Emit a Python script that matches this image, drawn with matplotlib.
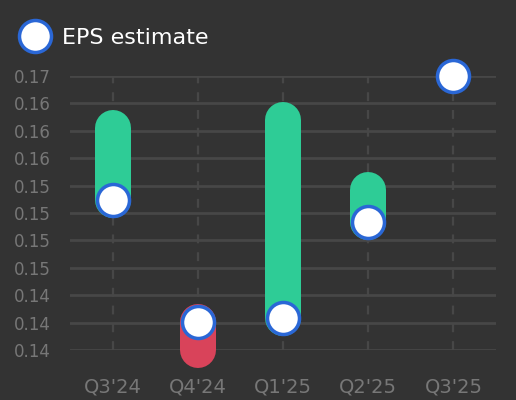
import numpy as np
import matplotlib
matplotlib.use('Agg')
import matplotlib.pyplot as plt
from matplotlib.lines import Line2D

# EPS per quarter
quarters = ["Q3'24", "Q4'24", "Q1'25", "Q2'25", "Q3'25"]
eps_estimate = [0.1527, 0.1394, 0.1398, 0.1503, 0.1663]
eps_actual = [0.1606, 0.1363, 0.1615, 0.1538, None]

bg = '#333333'
grid_c = '#474747'
text_c = '#777777'
beat_c = '#2ecc96'
miss_c = '#d9435a'
ring_c = '#2a67d6'

fig = plt.figure(figsize=(5.16, 4.0), dpi=100, facecolor=bg)
ax = fig.add_axes([70/516, 1-350/400, 426/516, 274/400], facecolor=bg)

x = np.arange(len(quarters))
known = [v for v in eps_estimate + eps_actual if v is not None]
lo, hi = min(known), max(known)
ticks = np.linspace(lo, hi, 11)

for t in ticks:
    ax.axhline(t, color=grid_c, lw=2, zorder=1)
for xi in x:
    ax.plot([xi, xi], [lo, hi], color=grid_c, lw=1.6, ls=(0, (4, 4)), zorder=1)

bar_w = 36 * 72 / 100
for xi, est, act in zip(x, eps_estimate, eps_actual):
    if act is None:
        continue
    c = beat_c if act >= est else miss_c
    ax.plot([xi, xi], [est, act], color=c, lw=bar_w,
            solid_capstyle='round', clip_on=False, zorder=2)

ax.plot(x, eps_estimate, ls='none', marker='o', ms=32 * 72 / 100,
        mfc='white', mec=ring_c, mew=3.5 * 72 / 100, clip_on=False, zorder=3)

ax.set_xlim(-0.5, len(quarters) - 0.5)
ax.set_ylim(lo, hi)
ax.set_yticks(ticks)
ax.set_yticklabels([f'{t:.2f}' for t in ticks])
ax.set_xticks(x)
ax.set_xticklabels(quarters)
ax.tick_params(axis='y', length=0, pad=14, labelsize=12, labelcolor=text_c)
ax.tick_params(axis='x', length=0, pad=20, labelsize=14, labelcolor=text_c)
for s in ax.spines.values():
    s.set_visible(False)

handle = Line2D([], [], ls='none', marker='o', ms=32 * 72 / 100,
                mfc='white', mec=ring_c, mew=3.5 * 72 / 100)
fig.legend([handle], ['EPS estimate'], loc='center left',
           bbox_to_anchor=(22/516, 1-38/400), frameon=False,
           fontsize=16, labelcolor='white', handletextpad=0.6,
           handlelength=1.2, borderpad=0, borderaxespad=0)

fig.savefig('out.png', dpi=100, facecolor=bg)
